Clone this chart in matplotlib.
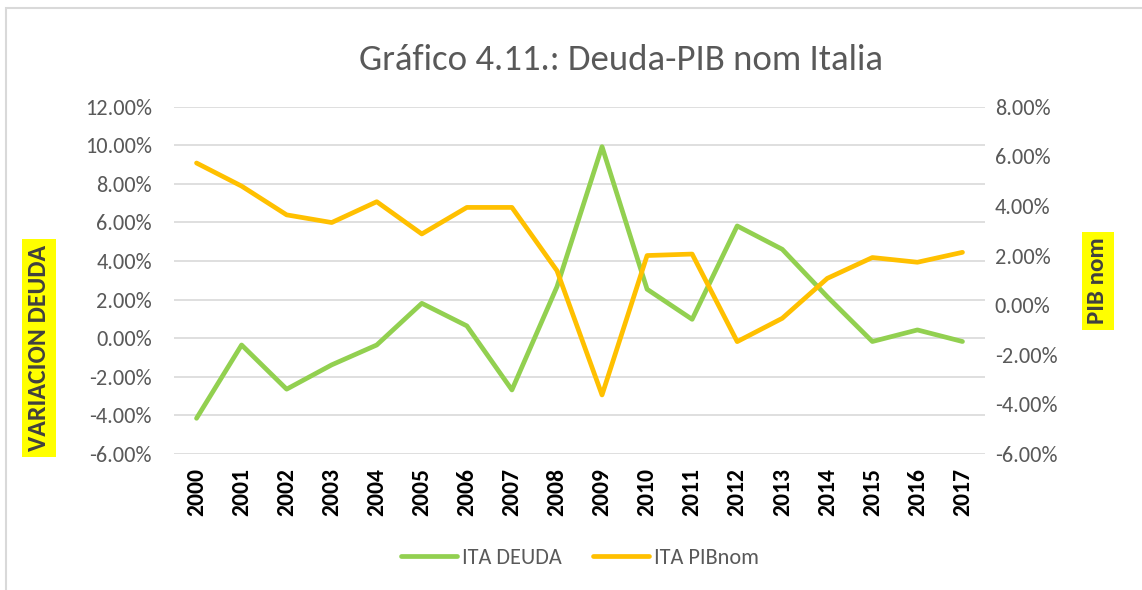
import matplotlib
matplotlib.use("Agg")
import matplotlib.pyplot as plt
from matplotlib.ticker import FuncFormatter, MultipleLocator
from matplotlib.patches import Rectangle

plt.rcParams['font.family'] = ['Carlito', 'Lato', 'DejaVu Sans']

years = [str(y) for y in range(2000, 2018)]
ita_deuda = [-4.15, -0.35, -2.64, -1.38, -0.35, 1.81, 0.64, -2.68, 2.67, 9.93,
             2.54, 0.98, 5.82, 4.61, 2.15, -0.17, 0.43, -0.17]
ita_pibnom = [5.73, 4.80, 3.64, 3.33, 4.17, 2.87, 3.94, 3.94, 1.39, -3.62,
              2.00, 2.06, -1.47, -0.53, 1.08, 1.92, 1.73, 2.13]

green = '#92D050'
orange = '#FFC000'
gray = '#595959'

fig = plt.figure(figsize=(11.42, 5.90), dpi=100)
ax = fig.add_axes([174/1142, 1-454/590, (985-174)/1142, (454-106.7)/590])
ax2 = ax.twinx()

x = list(range(len(years)))
l1, = ax.plot(x, ita_deuda, color=green, lw=3.4, solid_joinstyle='round', solid_capstyle='round', label='ITA DEUDA', zorder=3)
l2, = ax2.plot(x, ita_pibnom, color=orange, lw=3.4, solid_joinstyle='round', solid_capstyle='round', label='ITA PIBnom', zorder=3)

ax.set_xlim(-0.5, len(years) - 0.5)
ax.set_ylim(-6, 12)
ax2.set_ylim(-6, 8)
ax.yaxis.set_major_locator(MultipleLocator(2))
ax2.yaxis.set_major_locator(MultipleLocator(2))
fmt = FuncFormatter(lambda v, p: f"{v:.2f}%")
ax.yaxis.set_major_formatter(fmt)
ax2.yaxis.set_major_formatter(fmt)
ax.grid(axis='y', color='#D9D9D9', lw=1.2)
ax.set_axisbelow(True)

for a in (ax, ax2):
    for s in a.spines.values():
        s.set_visible(False)
    a.tick_params(length=0)
ax.tick_params(axis='y', labelsize=16, labelcolor=gray, pad=16)
ax2.tick_params(axis='y', labelsize=16, labelcolor=gray, pad=7)

ax.set_xticks(x)
ax.set_xticklabels(years, rotation=90, fontsize=17, fontweight='bold', color='black')
ax.tick_params(axis='x', pad=10)

fig.text(621/1142, 1-60/590, 'Gráfico 4.11.: Deuda-PIB nom Italia', ha='center', va='center',
         fontsize=26.5, color=gray)

fig.text(39/1142, 1-348/590, 'VARIACION DEUDA', rotation=90, ha='center', va='center',
         fontsize=18.5, fontweight='bold', color='#404040',
         bbox=dict(facecolor='#FFFF00', edgecolor='none', pad=4))
fig.text(1098/1142, 1-281/590, 'PIB nom', rotation=90, ha='center', va='center',
         fontsize=18, fontweight='bold', color='#404040',
         bbox=dict(facecolor='#FFFF00', edgecolor='none', pad=4))

leg = fig.legend(handles=[l1, l2], loc='center', bbox_to_anchor=(580/1142, 1-558/590),
                 ncol=2, frameon=False, fontsize=16, handlelength=2.5, columnspacing=1.4,
                 handletextpad=0.25)
for t in leg.get_texts():
    t.set_color(gray)

fig.patches.append(Rectangle((6/1142, -0.05), 1.2, 1 - 8/590 + 0.05, transform=fig.transFigure,
                             fill=False, edgecolor='#D9D9D9', lw=1.5))

fig.savefig('out.png', dpi=100)
